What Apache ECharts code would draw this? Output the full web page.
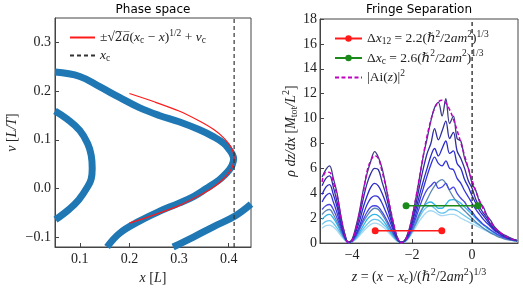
<!DOCTYPE html>
<html><head><meta charset="utf-8">
<script src="https://cdn.jsdelivr.net/npm/echarts@6/dist/echarts.min.js"></script>
<style>html,body{margin:0;padding:0;background:#fff}#c{width:523px;height:290px}</style>
</head><body><div id="c"></div>
<script>
// ---------- Left panel: phase space ----------
const foldX = [0.05, 0.10, 0.14, 0.18, 0.22, 0.26, 0.30, 0.34, 0.37, 0.39, 0.401, 0.407, 0.410, 0.407, 0.401, 0.39, 0.38, 0.355, 0.33, 0.30, 0.26, 0.22, 0.18, 0.155];
const foldV = [0.239, 0.230, 0.209, 0.187, 0.166, 0.150, 0.137, 0.121, 0.106, 0.093, 0.080, 0.071, 0.061, 0.048, 0.038, 0.026, 0.017, 0.0, -0.016, -0.030, -0.047, -0.067, -0.092, -0.12];
const innerX = [0.05, 0.075, 0.10, 0.116, 0.123, 0.125, 0.123, 0.116, 0.098, 0.078, 0.051];
const innerV = [0.159, 0.142, 0.119, 0.092, 0.068, 0.041, 0.020, 0.004, -0.023, -0.043, -0.064];
const lowerX = [0.288, 0.33, 0.37, 0.412, 0.445];
const lowerV = [-0.12, -0.099, -0.078, -0.057, -0.032];
const fitX = [0.20, 0.25, 0.30, 0.34, 0.37, 0.39, 0.40, 0.405, 0.409, 0.411, 0.409, 0.405, 0.40, 0.39, 0.37, 0.34, 0.30, 0.25, 0.20];
const fitV = [0.195, 0.178, 0.159, 0.139, 0.121, 0.104, 0.092, 0.0845, 0.075, 0.062, 0.049, 0.0395, 0.032, 0.020, 0.003, -0.015, -0.035, -0.054, -0.071];
const xcLeft = 0.411;
const leftXTicks = [0.1, 0.2, 0.3, 0.4];
const leftYTicks = [-0.1, 0.0, 0.1, 0.2, 0.3];

// ---------- Right panel: fringe separation ----------
const zGrid = [-5,-4.875,-4.75,-4.625,-4.5,-4.375,-4.25,-4.125,-4,-3.875,-3.75,-3.625,-3.5,-3.375,-3.25,-3.125,-3,-2.875,-2.75,-2.625,-2.5,-2.375,-2.25,-2.125,-2,-1.875,-1.75,-1.625,-1.5,-1.375,-1.25,-1.125,-1,-0.875,-0.75,-0.625,-0.5,-0.375,-0.25,-0.125,0,0.125,0.25,0.375,0.5,0.625,0.75,0.875,1,1.125,1.25,1.375,1.5];
const airy = [4.92,5.70,5.68,4.86,3.81,2.10,0.78,0.04,0.20,1.15,2.46,4.08,5.77,6.64,7.02,6.79,5.74,4.56,3.05,1.67,0.51,0.03,0.15,0.84,2.07,3.62,5.33,7.06,8.63,9.88,10.82,11.34,11.47,11.25,10.72,9.96,9.05,8.05,7.02,6.00,5.04,4.17,3.39,2.72,2.15,1.67,1.25,0.96,0.73,0.55,0.40,0.28,0.21];
const rho1 = [5.3,5.9,6.2,5.2,4.0,2.2,0.8,0.05, 0.3,1.3,2.6,4.3,5.6,6.6,7.35,6.9,6.0,4.6,3.0,1.6,0.5,0.05, 0.2,0.9,2.1,3.6,5.3,7.0,8.4,9.8,10.9,11.3,10.2,11.6,9.6,10.2,8.4,8.2,6.8,6.0,4.8,4.2,3.3,2.9,2.2,1.8,1.3,1.0,0.75,0.6,0.45,0.3,0.2];
const rho2 = [4.6,5.2,5.4,4.5,3.3,1.9,0.7,0.05, 0.25,1.1,2.2,3.6,4.8,5.6,6.0,5.9,4.9,3.9,2.6,1.4,0.45,0.05, 0.2,0.8,1.8,3.1,4.6,6.0,7.2,8.0,9.2,8.3,9.0,9.8,8.4,8.9,7.4,6.8,6.0,5.0,4.4,3.5,2.9,2.4,2.0,1.5,1.2,0.9,0.7,0.5,0.4,0.3,0.2];
const rho3 = [3.9,4.5,4.7,3.9,2.9,1.6,0.6,0.05, 0.2,0.9,1.8,2.9,3.8,4.5,4.8,4.6,4.0,3.2,2.2,1.2,0.4,0.05, 0.2,0.7,1.6,2.7,3.9,5.0,6.0,7.0,7.6,7.0,7.6,8.2,7.2,7.4,6.4,6.0,5.1,4.5,3.8,3.2,2.6,2.2,1.8,1.4,1.1,0.85,0.65,0.5,0.35,0.25,0.2];
const rho4 = [3.3,3.8,4.0,3.3,2.4,1.4,0.5,0.05, 0.2,0.7,1.4,2.3,3.1,3.6,3.8,3.7,3.2,2.5,1.8,1.0,0.35,0.05, 0.15,0.6,1.4,2.3,3.4,4.4,5.4,6.3,6.9,6.4,6.2,6.6,6.0,5.9,5.2,4.8,4.2,3.7,3.2,2.7,2.3,1.9,1.6,1.3,1.0,0.8,0.6,0.45,0.35,0.25,0.2];
const rho5 = [2.7,3.0,3.1,2.7,2.0,1.2,0.45,0.05, 0.15,0.6,1.2,1.9,2.5,2.9,3.0,2.9,2.5,2.0,1.4,0.8,0.3,0.05, 0.15,0.5,1.2,2.0,2.9,3.7,4.3,4.6,4.9,4.4,4.5,4.8,4.3,4.5,4.0,3.6,3.3,2.8,2.5,2.1,1.8,1.5,1.3,1.05,0.85,0.65,0.5,0.4,0.3,0.25,0.2];
const rho6 = [2.3,2.6,2.7,2.3,1.7,1.0,0.4,0.05, 0.15,0.5,1.1,1.7,2.2,2.6,2.8,2.7,2.3,1.8,1.2,0.7,0.25,0.05, 0.15,0.45,1.0,1.6,2.3,2.9,3.5,4.1,4.6,4.95,5.1,4.8,4.2,3.7,3.3,2.9,2.6,2.3,2.0,1.7,1.45,1.2,1.0,0.8,0.65,0.5,0.4,0.3,0.25,0.2,0.15];
const rho7 = [1.9,2.2,2.3,2.0,1.5,0.9,0.35,0.05, 0.15,0.45,0.9,1.4,1.9,2.2,2.3,2.2,1.9,1.5,1.0,0.6,0.2,0.05, 0.15,0.45,1.0,1.7,2.4,2.9,3.2,3.3,3.1,2.8,2.8,3.1,3.45,3.5,3.4,3.2,2.9,2.6,2.3,2.0,1.7,1.45,1.2,1.0,0.8,0.65,0.5,0.4,0.3,0.22,0.15];
const rho8 = [1.5,1.75,1.8,1.6,1.2,0.75,0.3,0.05, 0.1,0.35,0.75,1.15,1.5,1.8,1.9,1.85,1.6,1.3,0.9,0.5,0.2,0.05, 0.1,0.4,0.9,1.5,2.1,2.6,2.9,3.0,2.8,2.5,2.4,2.5,2.7,2.7,2.6,2.4,2.2,2.0,1.8,1.6,1.4,1.2,1.0,0.85,0.7,0.55,0.45,0.35,0.27,0.2,0.15];
const rho9 = [1.2,1.4,1.45,1.3,1.0,0.6,0.25,0.05, 0.1,0.3,0.6,0.95,1.25,1.5,1.6,1.55,1.35,1.1,0.75,0.45,0.15,0.05, 0.1,0.35,0.8,1.3,1.8,2.2,2.5,2.6,2.5,2.3,2.2,2.25,2.3,2.3,2.2,2.0,1.85,1.7,1.55,1.4,1.25,1.1,0.95,0.8,0.7,0.6,0.5,0.4,0.3,0.25,0.2];
const rhoCurves = [rho9, rho8, rho7, rho6, rho5, rho4, rho3, rho2, rho1];
const sep12Z = [-3.23, -1.01], sep12Y = [1, 1];
const sepCZ = [-2.2, 0.19], sepCY = [3, 3];
const rightXTicks = [-4, -2, 0];

// ---------- styles ----------
const colorsRho = ['#a6d8f2', '#66c4ee', '#30b4ea', '#5b87b4', '#4646e2', '#3434d8', '#2a2ac8', '#2e2ea0', '#3c3c88'];
const SERIF = '"Liberation Serif", "DejaVu Serif", serif';
const INK = '#222';
const rich = {
  t: {fontFamily: SERIF, fontSize: 13.5, color: INK},
  i: {fontFamily: SERIF, fontSize: 13.5, fontStyle: 'italic', color: INK},
  ov: {fontFamily: '"DejaVu Serif", serif', fontSize: 12, color: INK},
  ovi: {fontFamily: '"DejaVu Serif", serif', fontSize: 12, fontStyle: 'italic', color: INK},
  sub: {fontFamily: SERIF, fontSize: 9.5, color: INK, padding: [6, 0, 0, 0]},
  sup: {fontFamily: SERIF, fontSize: 9.5, color: INK, padding: [0, 0, 9, 0]}
};
const richBig = {
  t: {fontFamily: SERIF, fontSize: 14, color: INK},
  i: {fontFamily: SERIF, fontSize: 14, fontStyle: 'italic', color: INK},
  sub: {fontFamily: SERIF, fontSize: 10, color: INK, padding: [6, 0, 0, 0]},
  sup: {fontFamily: SERIF, fontSize: 10, color: INK, padding: [0, 0, 10, 0]}
};
const legendText = {
  fit: '{t|±√}{ov|2\u0305}{ovi|a\u0305}{t|(}{i|x}{sub|c}{t| − }{i|x}{t|)}{sup|1/2}{t| + }{i|v}{sub|c}',
  xc: '{i|x}{sub|c}',
  d12: '{t|Δ}{i|x}{sub|12}{t| = 2.2(ℏ}{sup|2}{t|/2}{i|am}{sup|2}{t|)}{sup|1/3}',
  dc: '{t|Δ}{i|x}{sub|c}{t| = 2.6(ℏ}{sup|2}{t|/2}{i|am}{sup|2}{t|)}{sup|1/3}',
  ai: '{t||Ai(}{i|z}{t|)|}{sup|2}'
};
const fmtNum = d => v => v.toFixed(d).replace('-', '−');
const frame = '#444';
function baseAxis(extra) {
  return Object.assign({
    axisLine: {show: true, onZero: false, lineStyle: {color: frame, width: 1}},
    axisTick: {show: true, inside: true, length: 4, lineStyle: {color: frame}},
    splitLine: {show: false},
    nameLocation: 'middle',
    nameTextStyle: {rich: richBig}
  }, extra);
}
const pairs = (xs, ys) => xs.map((x, i) => [x, ys[i]]);

const series = [];
const blueStyle = {color: '#1f77b4', width: 7};
series.push({type: 'line', xAxisIndex: 0, yAxisIndex: 0, data: pairs(innerX, innerV), smooth: 0.4, symbol: 'none', lineStyle: blueStyle});
series.push({type: 'line', xAxisIndex: 0, yAxisIndex: 0, data: pairs(foldX, foldV), smooth: 0.4, symbol: 'none', lineStyle: blueStyle});
series.push({type: 'line', xAxisIndex: 0, yAxisIndex: 0, data: pairs(lowerX, lowerV), smooth: 0.4, symbol: 'none', lineStyle: blueStyle});
series.push({name: 'fit', type: 'line', xAxisIndex: 0, yAxisIndex: 0, data: pairs(fitX, fitV), smooth: 0.3, symbol: 'none', lineStyle: {color: '#ff1a1a', width: 1.2}, itemStyle: {color: '#ff1a1a'}});
series.push({name: 'xc', type: 'line', xAxisIndex: 0, yAxisIndex: 0, data: [[xcLeft, -0.12], [xcLeft, 0.35]], symbol: 'none', lineStyle: {color: '#333', width: 1.2, type: [4, 3]}, itemStyle: {color: '#333'}});

rhoCurves.forEach((c, k) => {
  series.push({type: 'line', xAxisIndex: 1, yAxisIndex: 1, data: pairs(zGrid, c), smooth: 0.35, symbol: 'none', lineStyle: {color: colorsRho[k], width: 1.3}});
});
series.push({type: 'line', xAxisIndex: 1, yAxisIndex: 1, data: [[0, 0], [0, 18]], symbol: 'none', lineStyle: {color: '#111', width: 1.2, type: [4, 3]}});
series.push({name: 'ai', type: 'line', xAxisIndex: 1, yAxisIndex: 1, data: pairs(zGrid, airy), smooth: 0.4, symbol: 'none', lineStyle: {color: '#c000c0', width: 1.5, type: [4, 2.5]}, itemStyle: {color: '#c000c0'}});
series.push({name: 'd12', type: 'line', xAxisIndex: 1, yAxisIndex: 1, data: pairs(sep12Z, sep12Y), symbol: 'circle', symbolSize: 7, lineStyle: {color: '#ff1a1a', width: 1.5}, itemStyle: {color: '#ff1a1a'}});
series.push({name: 'dc', type: 'line', xAxisIndex: 1, yAxisIndex: 1, data: pairs(sepCZ, sepCY), symbol: 'circle', symbolSize: 7, lineStyle: {color: '#1a8a1a', width: 1.5}, itemStyle: {color: '#1a8a1a'}});

const noSym = {opacity: 0};
const chart = echarts.init(document.getElementById('c'), null, {renderer: 'canvas'});
chart.setOption({
  animation: false,
  backgroundColor: '#fff',
  graphic: [
    {type: 'text', x: 153, y: 4, style: {text: 'Phase space', font: '12px "DejaVu Sans", sans-serif', fill: '#000', textAlign: 'center', textVerticalAlign: 'top'}},
    {type: 'text', x: 419, y: 4, style: {text: 'Fringe Separation', font: '12px "DejaVu Sans", sans-serif', fill: '#000', textAlign: 'center', textVerticalAlign: 'top'}}
  ],
  grid: [
    {left: 55, top: 18, width: 196, height: 231, show: true, borderColor: frame, borderWidth: 1, backgroundColor: 'transparent'},
    {left: 320, top: 19, width: 198, height: 230, show: true, borderColor: frame, borderWidth: 1, backgroundColor: 'transparent'}
  ],
  xAxis: [
    baseAxis({gridIndex: 0, type: 'value', min: 0.05, max: 0.445, name: '{i|x}{t| [}{i|L}{t|]}', nameGap: 24,
      axisTick: {show: true, inside: true, length: 4, lineStyle: {color: frame}, customValues: leftXTicks},
      axisLabel: {customValues: leftXTicks, formatter: fmtNum(1), fontFamily: SERIF, fontSize: 14, color: INK, margin: 5}}),
    baseAxis({gridIndex: 1, type: 'value', min: -5.07, max: 1.53, name: '{i|z}{t| = (}{i|x}{t| − }{i|x}{sub|c}{t|)/(ℏ}{sup|2}{t|/2}{i|am}{sup|2}{t|)}{sup|1/3}', nameGap: 22,
      axisTick: {show: true, inside: true, length: 4, lineStyle: {color: frame}, customValues: rightXTicks},
      axisLabel: {customValues: rightXTicks, formatter: fmtNum(0), fontFamily: SERIF, fontSize: 14, color: INK, margin: 5}})
  ],
  yAxis: [
    baseAxis({gridIndex: 0, type: 'value', min: -0.12, max: 0.35, name: '{i|v}{t| [}{i|L/T}{t|]}', nameGap: 36,
      axisTick: {show: true, inside: true, length: 4, lineStyle: {color: frame}, customValues: leftYTicks},
      axisLabel: {customValues: leftYTicks, formatter: fmtNum(1), fontFamily: SERIF, fontSize: 14, color: INK, margin: 4}}),
    baseAxis({gridIndex: 1, type: 'value', min: 0, max: 18, interval: 2, name: '{i|ρ dz/dx}{t| [}{i|M}{sub|tot}{i|/L}{sup|2}{t|]}', nameGap: 16,
      axisLabel: {formatter: fmtNum(0), fontFamily: SERIF, fontSize: 14, color: INK, margin: 3}})
  ],
  legend: [
    {data: [{name: 'fit', itemStyle: noSym}, {name: 'xc', itemStyle: noSym}], orient: 'vertical', left: 64, top: 23, itemWidth: 25, itemHeight: 8, itemGap: 3,
      formatter: n => legendText[n], textStyle: {rich: rich, fontFamily: SERIF, fontSize: 13, color: INK}},
    {data: ['d12', 'dc', {name: 'ai', itemStyle: noSym}], orient: 'vertical', left: 329, top: 24, itemWidth: 27, itemHeight: 8, itemGap: 2,
      formatter: n => legendText[n], textStyle: {rich: rich, fontFamily: SERIF, fontSize: 13, color: INK}}
  ],
  series: series
});
</script></body></html>
